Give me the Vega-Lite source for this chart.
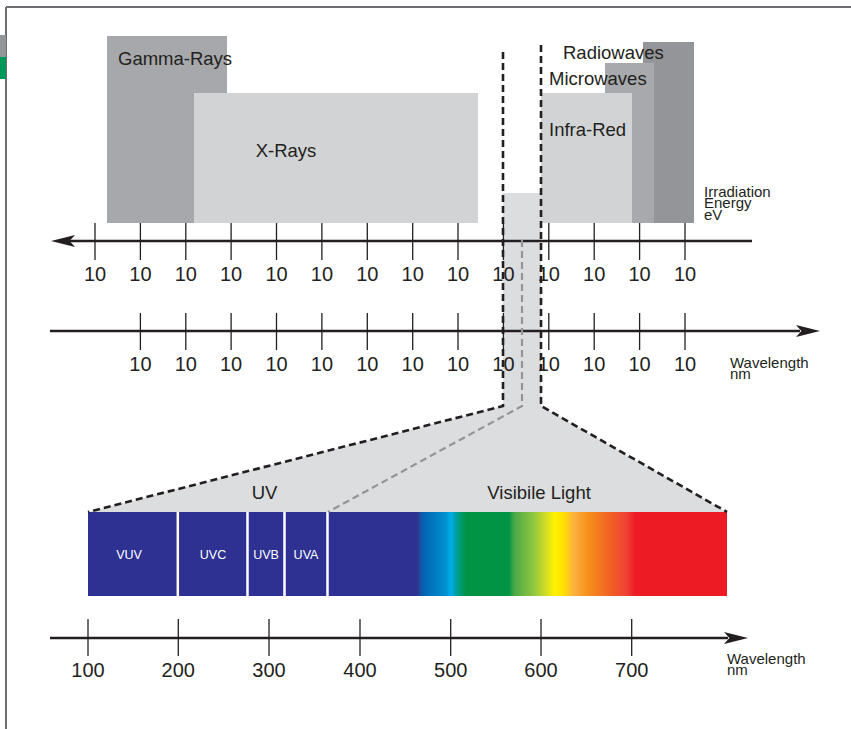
{
  "$schema": "https://vega.github.io/schema/vega-lite/v6.json",
  "width": 851,
  "height": 729,
  "autosize": {"type": "none"},
  "padding": 0,
  "background": "white",
  "config": {"view": {"stroke": null}, "font": "Liberation Sans"},
  "datasets": {
    "frame": [
      {"x": 6, "y": 7, "x2": 851, "y2": 7},
      {"x": 6, "y": 7, "x2": 6, "y2": 729}
    ],
    "bands": [
      {"band": "tabGray", "x": 0, "x2": 6, "y": 35, "y2": 57},
      {"band": "tabGreen", "x": 0, "x2": 6, "y": 57, "y2": 79},
      {"band": "Gamma-Rays", "x": 107, "x2": 227, "y": 36, "y2": 223},
      {"band": "X-Rays", "x": 194, "x2": 478, "y": 93, "y2": 223},
      {"band": "Radiowaves", "x": 643, "x2": 694, "y": 42, "y2": 223},
      {"band": "Microwaves", "x": 605, "x2": 654, "y": 63, "y2": 223},
      {"band": "Infra-Red", "x": 541, "x2": 632, "y": 93, "y2": 223},
      {"band": "Visible", "x": 503, "x2": 541, "y": 193, "y2": 407}
    ],
    "fan": [
      {"x": 88, "y": 512, "y2": 512},
      {"x": 503, "y": 406, "y2": 512},
      {"x": 541, "y": 406, "y2": 512},
      {"x": 727, "y": 512, "y2": 512}
    ],
    "uvbar": [{"x": 88, "x2": 416, "y": 512, "y2": 596}],
    "visbar": [{"x": 415, "x2": 727, "y": 512, "y2": 596}],
    "separators": [
      {"x": 177.8, "y": 512, "y2": 596},
      {"x": 247.5, "y": 512, "y2": 596},
      {"x": 284.5, "y": 512, "y2": 596},
      {"x": 327.5, "y": 512, "y2": 596}
    ],
    "axes": [
      {"x": 60, "x2": 752, "y": 241},
      {"x": 50, "x2": 800, "y": 331},
      {"x": 50, "x2": 728, "y": 638}
    ],
    "ticks": [
      {"x": 95, "y": 223, "y2": 260},
      {"x": 140.4, "y": 223, "y2": 260},
      {"x": 185.8, "y": 223, "y2": 260},
      {"x": 231.1, "y": 223, "y2": 260},
      {"x": 276.5, "y": 223, "y2": 260},
      {"x": 321.9, "y": 223, "y2": 260},
      {"x": 367.3, "y": 223, "y2": 260},
      {"x": 412.7, "y": 223, "y2": 260},
      {"x": 458, "y": 223, "y2": 260},
      {"x": 503.4, "y": 223, "y2": 260},
      {"x": 548.8, "y": 223, "y2": 260},
      {"x": 594.2, "y": 223, "y2": 260},
      {"x": 639.6, "y": 223, "y2": 260},
      {"x": 685, "y": 223, "y2": 260},
      {"x": 140.4, "y": 313, "y2": 350},
      {"x": 185.8, "y": 313, "y2": 350},
      {"x": 231.1, "y": 313, "y2": 350},
      {"x": 276.5, "y": 313, "y2": 350},
      {"x": 321.9, "y": 313, "y2": 350},
      {"x": 367.3, "y": 313, "y2": 350},
      {"x": 412.7, "y": 313, "y2": 350},
      {"x": 458, "y": 313, "y2": 350},
      {"x": 503.4, "y": 313, "y2": 350},
      {"x": 548.8, "y": 313, "y2": 350},
      {"x": 594.2, "y": 313, "y2": 350},
      {"x": 639.6, "y": 313, "y2": 350},
      {"x": 685, "y": 313, "y2": 350},
      {"x": 88, "y": 619, "y2": 656},
      {"x": 178.3, "y": 619, "y2": 656},
      {"x": 269, "y": 619, "y2": 656},
      {"x": 360, "y": 619, "y2": 656},
      {"x": 450.7, "y": 619, "y2": 656},
      {"x": 541, "y": 619, "y2": 656},
      {"x": 631.7, "y": 619, "y2": 656}
    ],
    "arrows": [
      {"dir": "left", "x": 63, "y": 241},
      {"dir": "right", "x": 808, "y": 331},
      {"dir": "right", "x": 736, "y": 638}
    ],
    "tickLabels": [
      {"label": "10", "x": 95, "y": 275},
      {"label": "10", "x": 140.4, "y": 275},
      {"label": "10", "x": 185.8, "y": 275},
      {"label": "10", "x": 231.1, "y": 275},
      {"label": "10", "x": 276.5, "y": 275},
      {"label": "10", "x": 321.9, "y": 275},
      {"label": "10", "x": 367.3, "y": 275},
      {"label": "10", "x": 412.7, "y": 275},
      {"label": "10", "x": 458, "y": 275},
      {"label": "10", "x": 503.4, "y": 275},
      {"label": "10", "x": 548.8, "y": 275},
      {"label": "10", "x": 594.2, "y": 275},
      {"label": "10", "x": 639.6, "y": 275},
      {"label": "10", "x": 685, "y": 275},
      {"label": "10", "x": 140.4, "y": 365},
      {"label": "10", "x": 185.8, "y": 365},
      {"label": "10", "x": 231.1, "y": 365},
      {"label": "10", "x": 276.5, "y": 365},
      {"label": "10", "x": 321.9, "y": 365},
      {"label": "10", "x": 367.3, "y": 365},
      {"label": "10", "x": 412.7, "y": 365},
      {"label": "10", "x": 458, "y": 365},
      {"label": "10", "x": 503.4, "y": 365},
      {"label": "10", "x": 548.8, "y": 365},
      {"label": "10", "x": 594.2, "y": 365},
      {"label": "10", "x": 639.6, "y": 365},
      {"label": "10", "x": 685, "y": 365},
      {"label": "100", "x": 88, "y": 671},
      {"label": "200", "x": 178.3, "y": 671},
      {"label": "300", "x": 269, "y": 671},
      {"label": "400", "x": 360, "y": 671},
      {"label": "500", "x": 450.7, "y": 671},
      {"label": "600", "x": 541, "y": 671},
      {"label": "700", "x": 631.7, "y": 671}
    ],
    "bigLabels": [
      {"label": "Gamma-Rays", "x": 118, "y": 59},
      {"label": "X-Rays", "x": 255.7, "y": 151},
      {"label": "Infra-Red", "x": 549, "y": 130},
      {"label": "Microwaves", "x": 549, "y": 79},
      {"label": "Radiowaves", "x": 563, "y": 53},
      {"label": "UV", "x": 251.7, "y": 493},
      {"label": "Visibile Light", "x": 487.3, "y": 493}
    ],
    "smallLabels": [
      {"label": "Irradiation", "x": 704, "y": 191.5},
      {"label": "Energy", "x": 704, "y": 203},
      {"label": "eV", "x": 704, "y": 215},
      {"label": "Wavelength", "x": 730, "y": 362.5},
      {"label": "nm", "x": 730, "y": 373.5},
      {"label": "Wavelength", "x": 727, "y": 659},
      {"label": "nm", "x": 727, "y": 670}
    ],
    "uvLabels": [
      {"label": "VUV", "x": 129, "y": 555},
      {"label": "UVC", "x": 213, "y": 555},
      {"label": "UVB", "x": 266, "y": 555},
      {"label": "UVA", "x": 306, "y": 555}
    ],
    "dashes": [
      {"path": "L", "o": 0, "x": 503, "y": 52},
      {"path": "L", "o": 1, "x": 503, "y": 406},
      {"path": "L", "o": 2, "x": 88, "y": 512},
      {"path": "R", "o": 0, "x": 541, "y": 45},
      {"path": "R", "o": 1, "x": 541, "y": 406},
      {"path": "R", "o": 2, "x": 727, "y": 512},
      {"path": "G", "o": 0, "x": 522, "y": 240},
      {"path": "G", "o": 1, "x": 522, "y": 406},
      {"path": "G", "o": 2, "x": 328, "y": 512}
    ]
  },
  "layer": [
    {
      "data": {"name": "frame"},
      "mark": {"type": "rule", "color": "#6d6e71", "strokeWidth": 2},
      "encoding": {
        "x": {"field": "x", "type": "quantitative", "scale": {"domain": [0, 851], "nice": false, "zero": false}, "axis": null},
        "x2": {"field": "x2"},
        "y": {"field": "y", "type": "quantitative", "scale": {"domain": [0, 729], "nice": false, "zero": false, "reverse": true}, "axis": null},
        "y2": {"field": "y2"}
      }
    },
    {
      "data": {"name": "bands"},
      "mark": {"type": "rect", "strokeWidth": 0},
      "encoding": {
        "x": {"field": "x", "type": "quantitative", "scale": {"domain": [0, 851], "nice": false, "zero": false}, "axis": null},
        "x2": {"field": "x2"},
        "y": {"field": "y", "type": "quantitative", "scale": {"domain": [0, 729], "nice": false, "zero": false, "reverse": true}, "axis": null},
        "y2": {"field": "y2"},
        "color": {
          "field": "band",
          "type": "nominal",
          "legend": null,
          "scale": {
            "domain": ["tabGray", "tabGreen", "Gamma-Rays", "X-Rays", "Radiowaves", "Microwaves", "Infra-Red", "Visible"],
            "range": ["#939598", "#00975a", "#a6a8ab", "#d1d3d4", "#939598", "#a7a9ac", "#d1d3d4", "#dcddde"]
          }
        }
      }
    },
    {
      "data": {"name": "fan"},
      "mark": {"type": "area", "color": "#dcddde", "interpolate": "linear"},
      "encoding": {
        "x": {"field": "x", "type": "quantitative", "scale": {"domain": [0, 851], "nice": false, "zero": false}, "axis": null},
        "y": {"field": "y", "type": "quantitative", "scale": {"domain": [0, 729], "nice": false, "zero": false, "reverse": true}, "axis": null},
        "y2": {"field": "y2"}
      }
    },
    {
      "data": {"name": "uvbar"},
      "mark": {"type": "rect", "color": "#2e3192"},
      "encoding": {
        "x": {"field": "x", "type": "quantitative", "scale": {"domain": [0, 851], "nice": false, "zero": false}, "axis": null},
        "x2": {"field": "x2"},
        "y": {"field": "y", "type": "quantitative", "scale": {"domain": [0, 729], "nice": false, "zero": false, "reverse": true}, "axis": null},
        "y2": {"field": "y2"}
      }
    },
    {
      "data": {"name": "visbar"},
      "mark": {
        "type": "rect",
        "fill": {
          "gradient": "linear",
          "x1": 0, "y1": 0, "x2": 1, "y2": 0,
          "stops": [
            {"offset": 0, "color": "#2e3192"},
            {"offset": 0.0064, "color": "#2e3192"},
            {"offset": 0.016, "color": "#1d4c9f"},
            {"offset": 0.029, "color": "#0066b3"},
            {"offset": 0.099, "color": "#0090d0"},
            {"offset": 0.115, "color": "#00aeef"},
            {"offset": 0.131, "color": "#00a0a0"},
            {"offset": 0.163, "color": "#009444"},
            {"offset": 0.301, "color": "#009444"},
            {"offset": 0.317, "color": "#4aa748"},
            {"offset": 0.378, "color": "#8dc63f"},
            {"offset": 0.423, "color": "#d7df23"},
            {"offset": 0.446, "color": "#fff200"},
            {"offset": 0.474, "color": "#ffe200"},
            {"offset": 0.51, "color": "#fbb040"},
            {"offset": 0.548, "color": "#f7941d"},
            {"offset": 0.619, "color": "#f26522"},
            {"offset": 0.679, "color": "#ef4136"},
            {"offset": 0.705, "color": "#ed1c24"},
            {"offset": 1, "color": "#ed1c24"}
          ]
        }
      },
      "encoding": {
        "x": {"field": "x", "type": "quantitative", "scale": {"domain": [0, 851], "nice": false, "zero": false}, "axis": null},
        "x2": {"field": "x2"},
        "y": {"field": "y", "type": "quantitative", "scale": {"domain": [0, 729], "nice": false, "zero": false, "reverse": true}, "axis": null},
        "y2": {"field": "y2"}
      }
    },
    {
      "data": {"name": "separators"},
      "mark": {"type": "rule", "color": "white", "strokeWidth": 2.5},
      "encoding": {
        "x": {"field": "x", "type": "quantitative", "scale": {"domain": [0, 851], "nice": false, "zero": false}, "axis": null},
        "y": {"field": "y", "type": "quantitative", "scale": {"domain": [0, 729], "nice": false, "zero": false, "reverse": true}, "axis": null},
        "y2": {"field": "y2"}
      }
    },
    {
      "data": {"name": "axes"},
      "mark": {"type": "rule", "color": "#231f20", "strokeWidth": 2.6},
      "encoding": {
        "x": {"field": "x", "type": "quantitative", "scale": {"domain": [0, 851], "nice": false, "zero": false}, "axis": null},
        "x2": {"field": "x2"},
        "y": {"field": "y", "type": "quantitative", "scale": {"domain": [0, 729], "nice": false, "zero": false, "reverse": true}, "axis": null}
      }
    },
    {
      "data": {"name": "ticks"},
      "mark": {"type": "rule", "color": "#231f20", "strokeWidth": 1.3},
      "encoding": {
        "x": {"field": "x", "type": "quantitative", "scale": {"domain": [0, 851], "nice": false, "zero": false}, "axis": null},
        "y": {"field": "y", "type": "quantitative", "scale": {"domain": [0, 729], "nice": false, "zero": false, "reverse": true}, "axis": null},
        "y2": {"field": "y2"}
      }
    },
    {
      "data": {"name": "arrows"},
      "mark": {"type": "point", "filled": true, "color": "#231f20", "opacity": 1, "size": 576, "strokeWidth": 0},
      "encoding": {
        "x": {"field": "x", "type": "quantitative", "scale": {"domain": [0, 851], "nice": false, "zero": false}, "axis": null},
        "y": {"field": "y", "type": "quantitative", "scale": {"domain": [0, 729], "nice": false, "zero": false, "reverse": true}, "axis": null},
        "shape": {
          "field": "dir",
          "type": "nominal",
          "legend": null,
          "scale": {
            "domain": ["left", "right"],
            "range": ["M-1,0L1,-0.5L0.55,0L1,0.5Z", "M1,0L-1,-0.5L-0.55,0L-1,0.5Z"]
          }
        }
      }
    },
    {
      "data": {"name": "tickLabels"},
      "mark": {"type": "text", "font": "Liberation Sans", "fontSize": 20, "color": "#231f20", "align": "center", "baseline": "middle"},
      "encoding": {
        "x": {"field": "x", "type": "quantitative", "scale": {"domain": [0, 851], "nice": false, "zero": false}, "axis": null},
        "y": {"field": "y", "type": "quantitative", "scale": {"domain": [0, 729], "nice": false, "zero": false, "reverse": true}, "axis": null},
        "text": {"field": "label"}
      }
    },
    {
      "data": {"name": "bigLabels"},
      "mark": {"type": "text", "font": "Liberation Sans", "fontSize": 18.5, "color": "#231f20", "align": "left", "baseline": "middle"},
      "encoding": {
        "x": {"field": "x", "type": "quantitative", "scale": {"domain": [0, 851], "nice": false, "zero": false}, "axis": null},
        "y": {"field": "y", "type": "quantitative", "scale": {"domain": [0, 729], "nice": false, "zero": false, "reverse": true}, "axis": null},
        "text": {"field": "label"}
      }
    },
    {
      "data": {"name": "smallLabels"},
      "mark": {"type": "text", "font": "Liberation Sans", "fontSize": 15, "color": "#231f20", "align": "left", "baseline": "middle"},
      "encoding": {
        "x": {"field": "x", "type": "quantitative", "scale": {"domain": [0, 851], "nice": false, "zero": false}, "axis": null},
        "y": {"field": "y", "type": "quantitative", "scale": {"domain": [0, 729], "nice": false, "zero": false, "reverse": true}, "axis": null},
        "text": {"field": "label"}
      }
    },
    {
      "data": {"name": "uvLabels"},
      "mark": {"type": "text", "font": "Liberation Sans", "fontSize": 12.5, "color": "#ffffff", "align": "center", "baseline": "middle"},
      "encoding": {
        "x": {"field": "x", "type": "quantitative", "scale": {"domain": [0, 851], "nice": false, "zero": false}, "axis": null},
        "y": {"field": "y", "type": "quantitative", "scale": {"domain": [0, 729], "nice": false, "zero": false, "reverse": true}, "axis": null},
        "text": {"field": "label"}
      }
    },
    {
      "data": {"name": "dashes"},
      "transform": [{"filter": "datum.path === 'G'"}],
      "mark": {"type": "line", "color": "#939598", "strokeWidth": 2.2, "strokeDash": [7, 4], "interpolate": "linear"},
      "encoding": {
        "x": {"field": "x", "type": "quantitative", "scale": {"domain": [0, 851], "nice": false, "zero": false}, "axis": null},
        "y": {"field": "y", "type": "quantitative", "scale": {"domain": [0, 729], "nice": false, "zero": false, "reverse": true}, "axis": null},
        "detail": {"field": "path", "type": "nominal"},
        "order": {"field": "o", "type": "quantitative"}
      }
    },
    {
      "data": {"name": "dashes"},
      "transform": [{"filter": "datum.path !== 'G'"}],
      "mark": {"type": "line", "color": "#231f20", "strokeWidth": 2.6, "strokeDash": [7, 4], "interpolate": "linear"},
      "encoding": {
        "x": {"field": "x", "type": "quantitative", "scale": {"domain": [0, 851], "nice": false, "zero": false}, "axis": null},
        "y": {"field": "y", "type": "quantitative", "scale": {"domain": [0, 729], "nice": false, "zero": false, "reverse": true}, "axis": null},
        "detail": {"field": "path", "type": "nominal"},
        "order": {"field": "o", "type": "quantitative"}
      }
    }
  ]
}
